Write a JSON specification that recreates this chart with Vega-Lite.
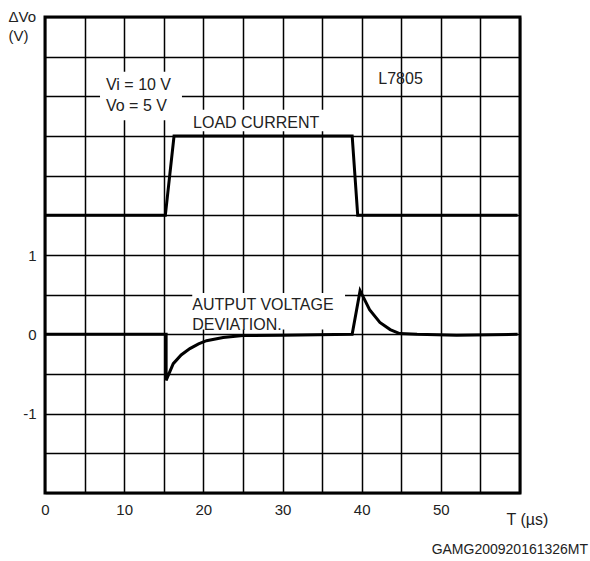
{
  "$schema": "https://vega.github.io/schema/vega-lite/v6.json",
  "width": 475,
  "height": 476,
  "autosize": {"type": "none"},
  "padding": {"left": 45, "top": 17, "right": 70, "bottom": 68},
  "background": "white",
  "config": {
    "view": {"stroke": "#000", "strokeWidth": 3},
    "font": "Liberation Sans"
  },
  "datasets": {
    "load": [
      {"seq": 1, "t": 0, "v": 1.5},
      {"seq": 2, "t": 15.2, "v": 1.5},
      {"seq": 3, "t": 16.3, "v": 2.5},
      {"seq": 4, "t": 38.8, "v": 2.5},
      {"seq": 5, "t": 39.5, "v": 1.5},
      {"seq": 6, "t": 59.7, "v": 1.5}
    ],
    "dev": [
      {"seq": 1, "t": 0, "v": 0},
      {"seq": 2, "t": 15.3, "v": 0},
      {"seq": 3, "t": 15.3, "v": -0.58},
      {"seq": 4, "t": 16.2, "v": -0.37},
      {"seq": 5, "t": 17.2, "v": -0.26},
      {"seq": 6, "t": 18.3, "v": -0.18},
      {"seq": 7, "t": 19.4, "v": -0.12},
      {"seq": 8, "t": 20.4, "v": -0.08},
      {"seq": 9, "t": 22.5, "v": -0.04},
      {"seq": 10, "t": 25, "v": -0.015},
      {"seq": 11, "t": 30, "v": -0.01},
      {"seq": 12, "t": 38.8, "v": 0},
      {"seq": 13, "t": 39.8, "v": 0.55},
      {"seq": 14, "t": 41, "v": 0.31},
      {"seq": 15, "t": 42.3, "v": 0.15},
      {"seq": 16, "t": 43.6, "v": 0.06},
      {"seq": 17, "t": 44.8, "v": 0.01},
      {"seq": 18, "t": 47, "v": 0},
      {"seq": 19, "t": 52, "v": -0.01},
      {"seq": 20, "t": 59.7, "v": 0}
    ],
    "boxes": [
      {"t": 6.95, "t2": 17.3, "v": 2.7, "v2": 3.31},
      {"t": 18.3, "t2": 36.0, "v": 2.56, "v2": 2.83},
      {"t": 18.6, "t2": 37.9, "v": 0.06, "v2": 0.52}
    ],
    "notes": [
      {"t": 7.7, "v": 3.14, "label": "Vi = 10 V"},
      {"t": 7.7, "v": 2.88, "label": "Vo = 5 V"},
      {"t": 18.7, "v": 2.66, "label": "LOAD CURRENT"},
      {"t": 18.6, "v": 0.37, "label": "AUTPUT VOLTAGE"},
      {"t": 18.6, "v": 0.12, "label": "DEVIATION."},
      {"t": 42.1, "v": 3.22, "label": "L7805"}
    ],
    "code": [
      {"t": 68.6, "v": -2.72, "label": "GAMG200920161326MT"}
    ]
  },
  "encoding": {
    "x": {
      "field": "t",
      "type": "quantitative",
      "scale": {"domain": [0, 60], "nice": false, "zero": false},
      "axis": {
        "values": [0, 5, 10, 15, 20, 25, 30, 35, 40, 45, 50, 55, 60],
        "labelExpr": "datum.value % 10 === 0 && datum.value < 60 ? datum.label : ''",
        "grid": true,
        "gridColor": "#000",
        "gridWidth": 1.5,
        "gridOpacity": 1,
        "ticks": false,
        "domain": false,
        "labelFont": "Liberation Sans",
        "labelFontSize": 15,
        "labelColor": "#222",
        "labelPadding": 9,
        "labelFlush": false,
        "labelOverlap": false,
        "title": "T (µs)",
        "titleFont": "Liberation Sans",
        "titleFontSize": 16,
        "titleFontWeight": "normal",
        "titleColor": "#222",
        "titleAlign": "left",
        "titleBaseline": "alphabetic",
        "titleX": 461,
        "titleY": 31
      }
    },
    "y": {
      "field": "v",
      "type": "quantitative",
      "scale": {"domain": [-2, 4], "nice": false, "zero": false},
      "axis": {
        "values": [-2, -1.5, -1, -0.5, 0, 0.5, 1, 1.5, 2, 2.5, 3, 3.5, 4],
        "labelExpr": "datum.value == 1 ? '1' : datum.value == 0 ? '0' : datum.value == -1 ? '-1' : ''",
        "grid": true,
        "gridColor": "#000",
        "gridWidth": 1.5,
        "gridOpacity": 1,
        "ticks": false,
        "domain": false,
        "labelFont": "Liberation Sans",
        "labelFontSize": 15,
        "labelColor": "#222",
        "labelPadding": 9,
        "labelFlush": false,
        "labelOverlap": false,
        "title": ["ΔVo", "(V)"],
        "titleFont": "Liberation Sans",
        "titleFontSize": 15,
        "titleFontWeight": "normal",
        "titleColor": "#222",
        "titleAngle": 0,
        "titleAlign": "left",
        "titleBaseline": "alphabetic",
        "titleLineHeight": 19,
        "titleX": -37,
        "titleY": 4
      }
    }
  },
  "layer": [
    {
      "data": {"name": "boxes"},
      "mark": {"type": "rect", "fill": "white", "stroke": null},
      "encoding": {
        "x2": {"field": "t2"},
        "y2": {"field": "v2"}
      }
    },
    {
      "data": {"name": "load"},
      "mark": {"type": "line", "color": "#000", "strokeWidth": 3, "strokeJoin": "miter"},
      "encoding": {"order": {"field": "seq", "type": "quantitative"}}
    },
    {
      "data": {"name": "dev"},
      "mark": {"type": "line", "color": "#000", "strokeWidth": 3, "strokeJoin": "miter"},
      "encoding": {"order": {"field": "seq", "type": "quantitative"}}
    },
    {
      "data": {"name": "notes"},
      "mark": {"type": "text", "align": "left", "baseline": "middle", "font": "Liberation Sans", "fontSize": 16, "color": "#222"},
      "encoding": {"text": {"field": "label", "type": "nominal"}}
    },
    {
      "data": {"name": "code"},
      "mark": {"type": "text", "align": "right", "baseline": "middle", "font": "Liberation Sans", "fontSize": 14, "color": "#222"},
      "encoding": {"text": {"field": "label", "type": "nominal"}}
    }
  ]
}
